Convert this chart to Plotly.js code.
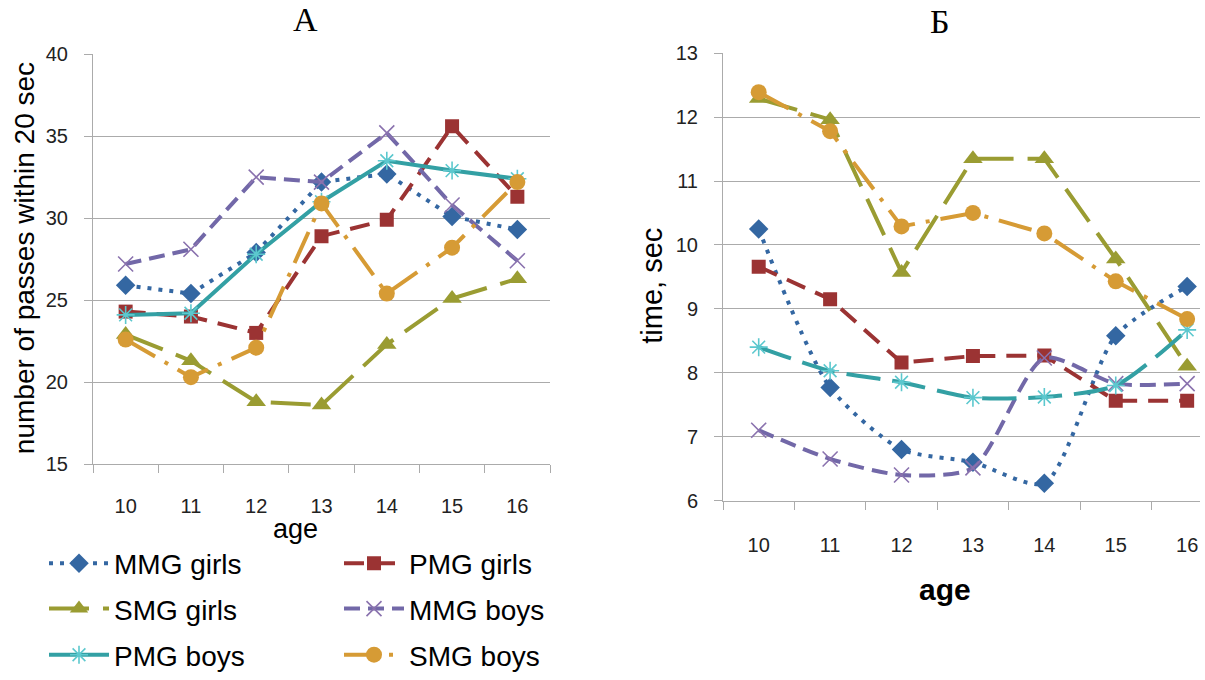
<!DOCTYPE html>
<html>
<head>
<meta charset="utf-8">
<script src="https://cdn.plot.ly/plotly-3.0.1.min.js"></script>
<style>
html,body{margin:0;padding:0;background:#fff;overflow:hidden;}
#chart{width:1205px;height:680px;}
</style>
</head>
<body>
<div id="chart"></div>
<script>
// ---- data ----
var ages = ['10', '11', '12', '13', '14', '15', '16'];
var seriesNames = ['MMG girls', 'PMG girls', 'SMG girls', 'MMG boys', 'PMG boys', 'SMG boys'];

// Chart A: number of passes within 20 sec
var mmgGirlsA = [25.9, 25.4, 27.9, 32.2, 32.7, 30.1, 29.3];
var pmgGirlsA = [24.3, 24.0, 23.0, 28.9, 29.9, 35.6, 31.3];
var smgGirlsA = [22.9, 21.3, 18.8, 18.6, 22.3, 25.1, 26.3];
var mmgBoysA  = [27.2, 28.1, 32.5, 32.2, 35.2, 30.8, 27.4];
var pmgBoysA  = [24.1, 24.2, 27.8, 31.0, 33.5, 32.9, 32.4];
var smgBoysA  = [22.6, 20.3, 22.1, 30.9, 25.4, 28.2, 32.2];

// Chart Б: time, sec
var mmgGirlsB = [10.25, 7.77, 6.80, 6.60, 6.27, 8.58, 9.35];
var pmgGirlsB = [9.66, 9.15, 8.16, 8.26, 8.27, 7.56, 7.56];
var smgGirlsB = [12.29, 11.96, 9.57, 11.35, 11.35, 9.78, 8.10];
var mmgBoysB  = [7.10, 6.65, 6.40, 6.51, 8.23, 7.83, 7.83];
var pmgBoysB  = [8.40, 8.03, 7.85, 7.61, 7.62, 7.80, 8.67];
var smgBoysB  = [12.39, 11.78, 10.29, 10.50, 10.18, 9.43, 8.84];

var dataA = [mmgGirlsA, pmgGirlsA, smgGirlsA, mmgBoysA, pmgBoysA, smgBoysA];
var dataB = [mmgGirlsB, pmgGirlsB, smgGirlsB, mmgBoysB, pmgBoysB, smgBoysB];

// ---- styles ----
var styles = [
  {color: '#3467A2', mcolor: '#3467A2', dashA: '4px,7px', dashB: '4px,7px', symbol: 'diamond', size: 15, splineB: true},
  {color: '#9B3333', mcolor: '#9B3333', dashA: '20px,11px', dashB: '20px,11px', symbol: 'square', size: 14, splineB: false},
  {color: '#9A9C32', mcolor: '#9A9C32', dashA: '40px,14px', dashB: '40px,14px', symbol: 'triangle-up', size: 17, splineB: false},
  {color: '#7268A8', mcolor: '#8A72AE', dashA: '16px,8px', dashB: '16px,8px', symbol: 'x-thin-open', size: 15, splineB: true, open: true},
  {color: '#33A0A4', mcolor: '#5CC8CE', dashA: 'solid', dashB: '34px,12px', symbol: 'asterisk-open', size: 15, splineB: true, open: true},
  {color: '#D69B35', mcolor: '#D69B35', dashA: '34px,11px,4px,11px', dashB: '34px,11px,4px,11px', symbol: 'circle', size: 16, splineB: false}
];
var legendIds = ['legend', 'legend', 'legend2', 'legend2', 'legend3', 'legend3'];

var traces = [];
seriesNames.forEach(function (name, i) {
  var s = styles[i];
  traces.push({
    type: 'scatter', mode: 'lines+markers', name: name,
    x: ages, y: dataA[i], xaxis: 'x', yaxis: 'y',
    legend: legendIds[i],
    line: {color: s.color, width: 4, dash: s.dashA},
    marker: {symbol: s.symbol, size: s.size, color: s.mcolor,
             line: {width: s.open ? 1.6 : 0, color: s.mcolor}}
  });
});
seriesNames.forEach(function (name, i) {
  var s = styles[i];
  traces.push({
    type: 'scatter', mode: 'lines+markers', name: name,
    x: ages, y: dataB[i], xaxis: 'x2', yaxis: 'y2',
    showlegend: false,
    line: {color: s.color, width: 4, dash: s.dashB,
           shape: s.splineB ? 'spline' : 'linear', smoothing: 0.7},
    marker: {symbol: s.symbol, size: s.size, color: s.mcolor,
             line: {width: s.open ? 1.6 : 0, color: s.mcolor}}
  });
});

var W = 1205, H = 680;
function px(x) { return x / W; }
function py(y) { return 1 - y / H; }

var tickFont = {family: 'Liberation Sans, Arial, sans-serif', size: 20, color: '#222'};
var gridCol = '#ABABAB';

var xCommon = {
  type: 'category', tickson: 'boundaries', ticks: 'outside', ticklen: 8,
  tickcolor: gridCol, showgrid: false, showline: true, linecolor: gridCol, linewidth: 1,
  tickfont: tickFont, zeroline: false, fixedrange: true
};
var yCommon = {
  ticks: 'outside', ticklen: 8, tickcolor: gridCol, showgrid: true, gridcolor: gridCol,
  gridwidth: 1, showline: true, linecolor: gridCol, linewidth: 1, zeroline: false,
  tickfont: tickFont, fixedrange: true
};

var legendCommon = {
  orientation: 'h', xref: 'paper', yref: 'paper', xanchor: 'left', yanchor: 'middle',
  x: px(44), font: {family: 'Liberation Sans, Arial, sans-serif', size: 28, color: '#000'},
  bgcolor: 'rgba(0,0,0,0)', itemwidth: 60, entrywidth: 220, entrywidthmode: 'pixels',
  itemclick: false, itemdoubleclick: false
};

var layout = {
  width: W, height: H,
  margin: {l: 0, r: 0, t: 0, b: 0},
  paper_bgcolor: '#fff', plot_bgcolor: '#fff',
  showlegend: true,
  xaxis: Object.assign({}, xCommon, {domain: [px(93), px(550)], range: [-0.5, 6.5], anchor: 'y', ticklabelstandoff: 24}),
  yaxis: Object.assign({}, yCommon, {domain: [py(471), py(55)], range: [15, 40], dtick: 5, anchor: 'x', ticklabelstandoff: 12}),
  xaxis2: Object.assign({}, xCommon, {domain: [px(723), px(1200)], range: [-0.5, 6.18], anchor: 'y2', ticklabelstandoff: 26}),
  yaxis2: Object.assign({}, yCommon, {domain: [py(508), py(54)], range: [6, 13], dtick: 1, anchor: 'x2', ticklabelstandoff: 12}),
  legend: Object.assign({}, legendCommon, {y: py(572)}),
  legend2: Object.assign({}, legendCommon, {y: py(618)}),
  legend3: Object.assign({}, legendCommon, {y: py(665)}),
  annotations: [
    {text: 'А', xref: 'paper', yref: 'paper', x: px(305), y: py(20), xanchor: 'center', yanchor: 'middle', showarrow: false,
     font: {family: 'Liberation Serif, Times New Roman, serif', size: 34, color: '#000'}},
    {text: 'Б', xref: 'paper', yref: 'paper', x: px(940), y: py(22), xanchor: 'center', yanchor: 'middle', showarrow: false,
     font: {family: 'Liberation Serif, Times New Roman, serif', size: 34, color: '#000'}},
    {text: 'number of passes within 20 sec', xref: 'paper', yref: 'paper', x: px(24), y: py(262), xanchor: 'center', yanchor: 'middle',
     textangle: -90, showarrow: false, font: {family: 'Liberation Sans, Arial, sans-serif', size: 28, color: '#000'}},
    {text: 'age', xref: 'paper', yref: 'paper', x: px(295), y: py(537), xanchor: 'center', yanchor: 'middle', showarrow: false,
     font: {family: 'Liberation Sans, Arial, sans-serif', size: 27, color: '#000'}},
    {text: 'time, sec', xref: 'paper', yref: 'paper', x: px(652), y: py(290), xanchor: 'center', yanchor: 'middle',
     textangle: -90, showarrow: false, font: {family: 'Liberation Sans, Arial, sans-serif', size: 29, color: '#000'}},
    {text: 'age', xref: 'paper', yref: 'paper', x: px(945), y: py(598), xanchor: 'center', yanchor: 'middle', showarrow: false,
     font: {family: 'Liberation Sans, Arial, sans-serif', size: 30, color: '#000', weight: 'bold'}}
  ]
};

Plotly.newPlot('chart', traces, layout, {displayModeBar: false, staticPlot: true});
</script>
</body>
</html>
